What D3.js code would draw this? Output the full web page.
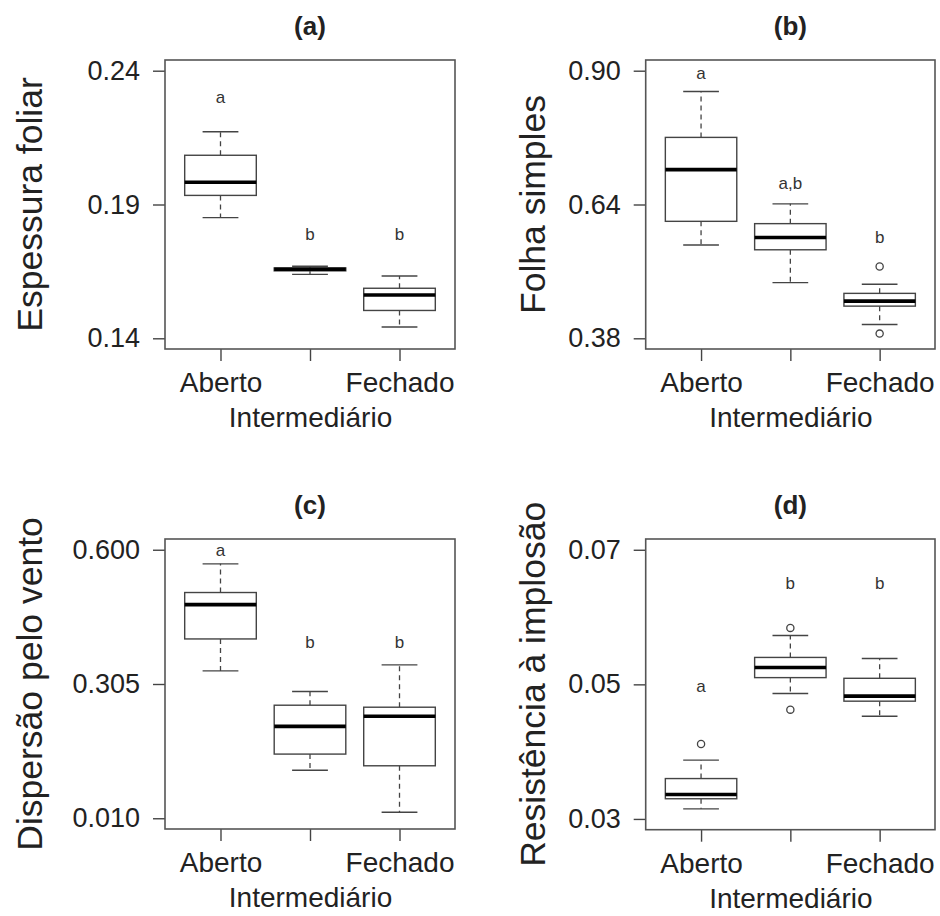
<!DOCTYPE html>
<html>
<head>
<meta charset="utf-8">
<script src="https://cdn.jsdelivr.net/npm/d3@7"></script>
<style>
  body { margin: 0; background: #fff; }
  text { font-family: "Liberation Sans", Arial, sans-serif; }
</style>
</head>
<body>
<svg id="chart" width="940" height="916"></svg>
<script>
var groups = ["Aberto", "Intermediário", "Fechado"]
var panelTitles = ["(a)", "(b)", "(c)", "(d)"]
var yLabels = ["Espessura foliar", "Folha simples", "Dispersão pelo vento", "Resistência à implosão"]
var yTicks = [[0.14, 0.19, 0.24], [0.38, 0.64, 0.90], [0.010, 0.305, 0.600], [0.03, 0.05, 0.07]]
var tickFormats = [".2f", ".2f", ".3f", ".2f"]

// box stats per panel, one value per group
var whiskerLo = [[0.1851, 0.1639, 0.1442], [0.5612, 0.4881, 0.4067], [0.3338, 0.1155, 0.0232], [0.0315, 0.04864, 0.04525]]
var q1 = [[0.1934, 0.1652, 0.1504], [0.6073, 0.552, 0.4425], [0.404, 0.151, 0.1253], [0.033, 0.051, 0.0475]]
var median = [[0.1983, 0.1658, 0.1562], [0.7078, 0.576, 0.4523], [0.4793, 0.2118, 0.234], [0.03364, 0.0525, 0.04825]]
var q3 = [[0.2084, 0.1663, 0.1587], [0.7704, 0.6028, 0.4673], [0.506, 0.2584, 0.254], [0.036, 0.054, 0.0509]]
var whiskerHi = [[0.2172, 0.1669, 0.1633], [0.8595, 0.6413, 0.485], [0.569, 0.2886, 0.3471], [0.03874, 0.05725, 0.05385]]
var outliers = [[[], [], []], [[], [], [0.5194, 0.3891]], [[], [], []], [[0.04114], [0.05839, 0.04624], []]]
var letters = [["a", "b", "b"], ["a", "a,b", "b"], ["a", "b", "b"], ["a", "b", "b"]]
var letterY = [[0.2302, 0.1791, 0.1791], [0.895, 0.6824, 0.576], [0.600, 0.3966, 0.3966], [0.0498, 0.065, 0.065]]

// plot regions
var panels = [
  {left: 165, top: 60, width: 290, height: 289, labOff: 123},
  {left: 645.7, top: 60, width: 289.3, height: 289, labOff: 100.7},
  {left: 165, top: 539, width: 290, height: 290, labOff: 123},
  {left: 645.7, top: 539, width: 289.3, height: 290.7, labOff: 100.7}
]

var svg = d3.select("#chart")
var lineCol = "#444"

panels.forEach(function(p, i) {
  var g = svg.append("g").attr("transform", "translate(" + p.left + "," + p.top + ")")
  var t = yTicks[i]
  var pad = (t[2] - t[0]) * 0.04

  var x = d3.scaleLinear().domain([0.38, 3.62]).range([0, p.width])
  var y = d3.scaleLinear().domain([t[0] - pad, t[2] + pad]).range([p.height, 0])

  // y axis
  var ya = g.append("g")
    .call(d3.axisLeft(y).tickValues(t).tickFormat(d3.format(tickFormats[i])).tickSize(12).tickPadding(13))
  ya.select(".domain").remove()
  ya.selectAll("line").attr("stroke", lineCol).attr("stroke-width", 1.4)
  ya.selectAll("text").attr("font-size", 27).attr("fill", "#222").style("font-family", "Liberation Sans, Arial, sans-serif")

  // x axis
  var xa = g.append("g")
    .attr("transform", "translate(0," + p.height + ")")
    .call(d3.axisBottom(x).tickValues([1, 2, 3]).tickFormat(function(d, j) { return groups[j] }).tickSize(12).tickPadding(11))
  xa.select(".domain").remove()
  xa.selectAll("line").attr("stroke", lineCol).attr("stroke-width", 1.4)
  xa.selectAll("text").attr("font-size", 28).attr("fill", "#222").style("font-family", "Liberation Sans, Arial, sans-serif")
  xa.selectAll(".tick").filter(function(d) { return d === 2 }).select("text").attr("y", 58)

  // frame
  g.append("rect")
    .attr("width", p.width).attr("height", p.height)
    .attr("fill", "none").attr("stroke", "#555").attr("stroke-width", 1.6)

  var bw = x(1.4) - x(1)
  var sw = x(1.2) - x(1)
  var idx = [0, 1, 2]

  // whiskers
  g.selectAll(".wh").data(idx).enter().append("line")
    .attr("x1", function(d) { return x(d + 1) }).attr("x2", function(d) { return x(d + 1) })
    .attr("y1", function(d) { return y(q3[i][d]) }).attr("y2", function(d) { return y(whiskerHi[i][d]) })
    .attr("stroke", lineCol).attr("stroke-width", 1.3).attr("stroke-dasharray", "5,4")
  g.selectAll(".wl").data(idx).enter().append("line")
    .attr("x1", function(d) { return x(d + 1) }).attr("x2", function(d) { return x(d + 1) })
    .attr("y1", function(d) { return y(q1[i][d]) }).attr("y2", function(d) { return y(whiskerLo[i][d]) })
    .attr("stroke", lineCol).attr("stroke-width", 1.3).attr("stroke-dasharray", "5,4")

  // staples
  ;[whiskerHi[i], whiskerLo[i]].forEach(function(arr) {
    g.selectAll(null).data(idx).enter().append("line")
      .attr("x1", function(d) { return x(d + 1) - sw }).attr("x2", function(d) { return x(d + 1) + sw })
      .attr("y1", function(d) { return y(arr[d]) }).attr("y2", function(d) { return y(arr[d]) })
      .attr("stroke", lineCol).attr("stroke-width", 1.4)
  })

  // boxes
  g.selectAll(".box").data(idx).enter().append("rect")
    .attr("x", function(d) { return x(d + 1) - bw })
    .attr("width", 2 * bw)
    .attr("y", function(d) { return y(q3[i][d]) })
    .attr("height", function(d) { return Math.max(0.5, y(q1[i][d]) - y(q3[i][d])) })
    .attr("fill", "#fff").attr("stroke", lineCol).attr("stroke-width", 1.4)

  // medians
  g.selectAll(".med").data(idx).enter().append("line")
    .attr("x1", function(d) { return x(d + 1) - bw }).attr("x2", function(d) { return x(d + 1) + bw })
    .attr("y1", function(d) { return y(median[i][d]) }).attr("y2", function(d) { return y(median[i][d]) })
    .attr("stroke", "#000").attr("stroke-width", 3.6)

  // outliers
  idx.forEach(function(d) {
    g.selectAll(null).data(outliers[i][d]).enter().append("circle")
      .attr("cx", x(d + 1)).attr("cy", function(v) { return y(v) })
      .attr("r", 3.6).attr("fill", "none").attr("stroke", lineCol).attr("stroke-width", 1.3)
  })

  // group letters
  g.selectAll(".let").data(idx).enter().append("text")
    .attr("x", function(d) { return x(d + 1) })
    .attr("y", function(d) { return y(letterY[i][d]) })
    .attr("dy", "0.35em")
    .attr("text-anchor", "middle")
    .attr("font-size", 17).attr("fill", "#333")
    .text(function(d) { return letters[i][d] })

  // panel title
  g.append("text")
    .attr("x", x(2)).attr("y", -25)
    .attr("text-anchor", "middle")
    .attr("font-size", 26).attr("font-weight", "bold").attr("fill", "#222")
    .text(panelTitles[i])

  // y label
  g.append("text")
    .attr("transform", "translate(" + (-p.labOff) + "," + (p.height / 2) + ") rotate(-90)")
    .attr("text-anchor", "middle")
    .attr("font-size", 35.5).attr("fill", "#222")
    .text(yLabels[i])
})
</script>
</body>
</html>
